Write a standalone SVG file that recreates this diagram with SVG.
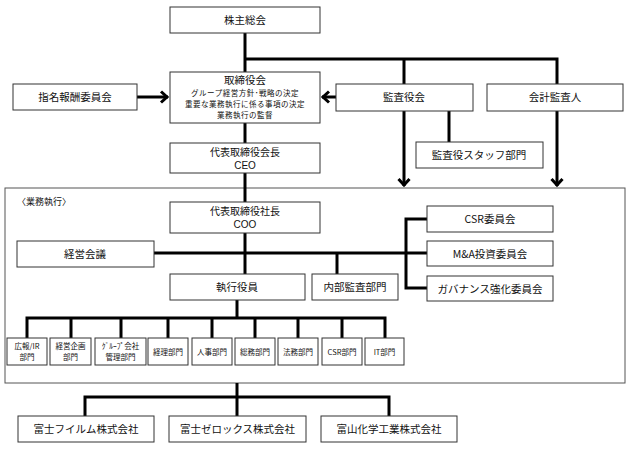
<svg xmlns="http://www.w3.org/2000/svg" width="640" height="468" viewBox="0 0 640 468">
<style>
.b{fill:#fff;stroke:#333;stroke-width:1}
.t{font-family:"Noto Sans CJK JP","Noto Sans",sans-serif;font-size:10.5px;fill:#111;text-anchor:middle}
.l{font-family:"Liberation Sans",Arial,sans-serif;font-size:10px}
.s{font-size:7.5px;letter-spacing:0.5px}
.d{font-size:7.5px}
.c{fill:none;stroke:#000;stroke-width:3}
</style>
<defs>
<marker id="ah" viewBox="0 0 12 14" refX="10" refY="7" markerWidth="12" markerHeight="14" markerUnits="userSpaceOnUse" orient="auto">
<path d="M3,1.5 L9,7 L3,12.5" fill="none" stroke="#000" stroke-width="3"/>
</marker>
</defs>
<rect x="5" y="188" width="620" height="195" fill="#fff" stroke="#555" stroke-width="1"/>
<text x="17" y="205" class="t" style="text-anchor:start;font-size:9px">〈業務執行〉</text>
<g id="connectors">
<path class="c" d="M245,33 V72"/>
<path class="c" d="M245,59 H557 V84 M404,59 V84"/>
<path class="c" d="M137,97 H168" marker-end="url(#ah)"/>
<path class="c" d="M336,97 H322" marker-end="url(#ah)"/>
<path class="c" d="M245,123 V143"/>
<path class="c" d="M245,173 V202"/>
<path class="c" d="M404,111 V186" marker-end="url(#ah)"/>
<path class="c" d="M557,111 V186" marker-end="url(#ah)"/>
<path class="c" d="M449,111 V142"/>
<path class="c" d="M245,233 V274"/>
<path class="c" d="M154,253 H427"/>
<path class="c" d="M337,253 V274"/>
<path class="c" d="M427,219 H406 V288 H427"/>
<path class="c" d="M237,300 V318"/>
<path class="c" d="M27,338 V318 H385 V338 M71,318 V338 M121,318 V338 M168,318 V338 M212,318 V338 M255,318 V338 M298,318 V338 M342,318 V338"/>
<path class="c" d="M237,383 V397"/>
<path class="c" d="M85,416 V397 H389 V416 M237,397 V416"/>
</g>
<g id="kabunushi"><rect class="b" x="170" y="7" width="150" height="26"/><text class="t" x="245" y="24">株主総会</text></g>
<g id="torishimariyakukai"><rect class="b" x="170" y="72" width="150" height="51"/><text class="t" x="245" y="84">取締役会</text><text class="t s" x="245" y="96">グループ経営方針･戦略の決定</text><text class="t s" x="245" y="107">重要な業務執行に係る事項の決定</text><text class="t s" x="245" y="118">業務執行の監督</text></g>
<g id="shimei"><rect class="b" x="13" y="84" width="124" height="26"/><text class="t" x="75" y="101">指名報酬委員会</text></g>
<g id="kansayakukai"><rect class="b" x="336" y="84" width="137" height="27"/><text class="t" x="404" y="101">監査役会</text></g>
<g id="kaikei"><rect class="b" x="487" y="84" width="136" height="27"/><text class="t" x="555" y="101">会計監査人</text></g>
<g id="staff"><rect class="b" x="416" y="142" width="127" height="26"/><text class="t" x="479" y="159">監査役スタッフ部門</text></g>
<g id="ceo"><rect class="b" x="170" y="143" width="150" height="30"/><text class="t" x="245" y="156" style="font-size:10px">代表取締役会長</text><text class="t l" x="245" y="169">CEO</text></g>
<g id="coo"><rect class="b" x="170" y="202" width="150" height="31"/><text class="t" x="245" y="215" style="font-size:10px">代表取締役社長</text><text class="t l" x="245" y="228">COO</text></g>
<g id="keieikaigi"><rect class="b" x="17" y="241" width="137" height="26"/><text class="t" x="85" y="258">経営会議</text></g>
<g id="shikkou"><rect class="b" x="170" y="274" width="135" height="26"/><text class="t" x="237" y="291">執行役員</text></g>
<g id="naibu"><rect class="b" x="312" y="274" width="86" height="26"/><text class="t" x="355" y="291">内部監査部門</text></g>
<g id="csr-iinkai"><rect class="b" x="427" y="206" width="126" height="26"/><text class="t" x="490" y="223">CSR委員会</text></g>
<g id="ma-iinkai"><rect class="b" x="427" y="241" width="126" height="25"/><text class="t" x="490" y="258">M&amp;A投資委員会</text></g>
<g id="gov-iinkai"><rect class="b" x="427" y="276" width="126" height="25"/><text class="t" x="490" y="293">ガバナンス強化委員会</text></g>
<g id="koho"><rect class="b" x="7" y="338" width="40" height="27"/><text class="t d" x="27" y="349">広報/IR</text><text class="t d" x="27" y="360">部門</text></g>
<g id="kikaku"><rect class="b" x="50" y="338" width="41" height="27"/><text class="t d" x="70.5" y="349">経営企画</text><text class="t d" x="70.5" y="360">部門</text></g>
<g id="group"><rect class="b" x="95" y="338" width="51" height="27"/><text class="t d" x="120.5" y="349">ｸﾞﾙｰﾌﾟ会社</text><text class="t d" x="120.5" y="360">管理部門</text></g>
<g id="keiri"><rect class="b" x="148" y="338" width="40" height="27"/><text class="t d" x="168" y="355">経理部門</text></g>
<g id="jinji"><rect class="b" x="192" y="338" width="40" height="27"/><text class="t d" x="212" y="355">人事部門</text></g>
<g id="somu"><rect class="b" x="235" y="338" width="40" height="27"/><text class="t d" x="255" y="355">総務部門</text></g>
<g id="homu"><rect class="b" x="278" y="338" width="40" height="27"/><text class="t d" x="298" y="355">法務部門</text></g>
<g id="csr-bumon"><rect class="b" x="322" y="338" width="40" height="27"/><text class="t d" x="342" y="355">CSR部門</text></g>
<g id="it"><rect class="b" x="365" y="338" width="39" height="27"/><text class="t d" x="384.5" y="355">IT部門</text></g>
<g id="fujifilm"><rect class="b" x="18" y="416" width="136" height="26"/><text class="t" x="86" y="433">富士フイルム株式会社</text></g>
<g id="fujixerox"><rect class="b" x="169" y="416" width="137" height="26"/><text class="t" x="237.5" y="433">富士ゼロックス株式会社</text></g>
<g id="toyama"><rect class="b" x="321" y="416" width="136" height="26"/><text class="t" x="389" y="433">富山化学工業株式会社</text></g>
</svg>
